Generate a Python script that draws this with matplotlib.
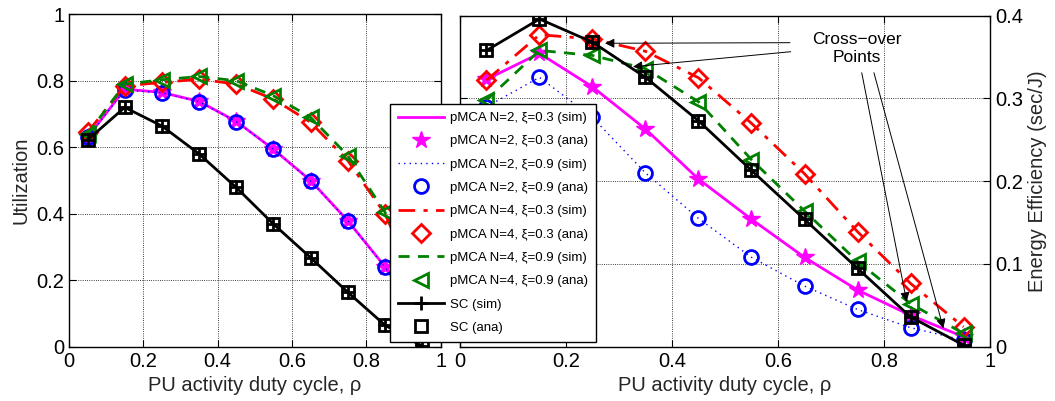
import matplotlib
matplotlib.use("Agg")
import matplotlib.pyplot as plt
from matplotlib.ticker import FixedLocator

plt.rcParams["font.family"] = ["Liberation Sans", "DejaVu Sans"]

rho = [0.05, 0.15, 0.25, 0.35, 0.45, 0.55, 0.65, 0.75, 0.85, 0.95]

# utilization (left panel)
util_n2_x03 = [0.63, 0.775, 0.765, 0.738, 0.678, 0.594, 0.50, 0.379, 0.241, 0.08]
util_n2_x09 = [0.63, 0.772, 0.764, 0.737, 0.677, 0.594, 0.499, 0.379, 0.240, 0.08]
util_n4_x03 = [0.645, 0.785, 0.795, 0.805, 0.79, 0.745, 0.675, 0.56, 0.40, 0.15]
util_n4_x09 = [0.64, 0.79, 0.803, 0.813, 0.80, 0.755, 0.69, 0.575, 0.405, 0.16]
util_sc = [0.622, 0.72, 0.664, 0.58, 0.479, 0.369, 0.268, 0.164, 0.065, 0.002]

# energy efficiency in sec/J (right panel)
ee_n2_x03 = [0.323, 0.3545, 0.314, 0.263, 0.2026, 0.154, 0.108, 0.0685, 0.038, 0.012]
ee_n2_x09 = [0.29, 0.3255, 0.277, 0.21, 0.155, 0.108, 0.0733, 0.045, 0.023, 0.008]
ee_n4_x03 = [0.322, 0.377, 0.372, 0.357, 0.325, 0.27, 0.209, 0.139, 0.0765, 0.024]
ee_n4_x09 = [0.298, 0.358, 0.352, 0.336, 0.296, 0.226, 0.164, 0.103, 0.052, 0.016]
ee_sc = [0.358, 0.396, 0.368, 0.3255, 0.273, 0.213, 0.154, 0.0947, 0.036, 0.002]

labels = [
    "pMCA N=2, ξ=0.3 (sim)", "pMCA N=2, ξ=0.3 (ana)",
    "pMCA N=2, ξ=0.9 (sim)", "pMCA N=2, ξ=0.9 (ana)",
    "pMCA N=4, ξ=0.3 (sim)", "pMCA N=4, ξ=0.3 (ana)",
    "pMCA N=4, ξ=0.9 (sim)", "pMCA N=4, ξ=0.9 (ana)",
    "SC (sim)", "SC (ana)",
]

green = (0, 0.5, 0)


def draw(ax, n2a, n2b, n4a, n4b, sc):
    h = []
    h += ax.plot(rho, n2a, color="magenta", lw=2)
    h += ax.plot(rho, n2a, ls="none", marker="*", ms=13, color="magenta")
    h += ax.plot(rho, n2b, color="blue", lw=1, ls=(0, (1, 3)))
    h += ax.plot(rho, n2b, ls="none", marker="o", ms=10, mew=2, mfc="none", color="blue")
    h += ax.plot(rho, n4a, color="red", lw=2, ls=(0, (6, 3, 1.5, 3)))
    h += ax.plot(rho, n4a, ls="none", marker="D", ms=9, mew=2, mfc="none", color="red")
    h += ax.plot(rho, n4b, color=green, lw=2, ls=(0, (4, 3)))
    h += ax.plot(rho, n4b, ls="none", marker="<", ms=10, mew=2, mfc="none", color=green)
    h += ax.plot(rho, sc, color="black", lw=2, marker="+", ms=10, mew=2)
    h += ax.plot(rho, sc, ls="none", marker="s", ms=8, mew=2, mfc="none", color="black")
    return h


def style(ax, ymax, ystep):
    ax.set_xlim(0, 1)
    ax.set_ylim(0, ymax)
    xt = [0, 0.2, 0.4, 0.6, 0.8, 1]
    yt = [round(i * ystep, 2) for i in range(int(round(ymax / ystep)) + 1)]
    ax.xaxis.set_major_locator(FixedLocator(xt))
    ax.yaxis.set_major_locator(FixedLocator(yt))
    ax.set_xticklabels([("%g" % v) for v in xt])
    ax.set_yticklabels([("%g" % v) for v in yt])
    ax.grid(True, color="black", ls=":", lw=0.6)
    ax.tick_params(direction="in", top=True, right=True, left=True, labelsize=14.5, length=5)
    for s in ax.spines.values():
        s.set_linewidth(1)
    ax.set_xlabel("PU activity duty cycle, ρ", fontsize=14.5, color="#262626")


fig = plt.figure(figsize=(10.55, 4.01), dpi=100)
ax1 = fig.add_axes([0.0654, 0.1354, 0.3523, 0.8289])
ax2 = fig.add_axes([0.436, 0.1354, 0.5024, 0.8254])

handles = draw(ax1, util_n2_x03, util_n2_x09, util_n4_x03, util_n4_x09, util_sc)
draw(ax2, ee_n2_x03, ee_n2_x09, ee_n4_x03, ee_n4_x09, ee_sc)

style(ax1, 1, 0.2)
ax1.set_ylabel("Utilization", fontsize=14.5, color="#262626")
style(ax2, 0.4, 0.1)
ax2.yaxis.tick_right()
ax2.tick_params(axis="y", left=True, right=True, labelleft=False, labelright=True)
ax2.yaxis.set_label_position("right")
ax2.set_ylabel("Energy Efficiency (sec/J)", fontsize=14.5, color="#262626")

# cross-over annotation
ax2.text(0.7485, 0.3606, "Cross\u2212over\nPoints", ha="center", va="center", fontsize=12.5,
         linespacing=1.2)
arrow = dict(arrowstyle="-|>", color="black", lw=0.7, mutation_scale=14, shrinkA=0, shrinkB=0)
ax2.annotate("", xy=(0.2736, 0.3667), xytext=(0.6226, 0.3674), arrowprops=arrow)
ax2.annotate("", xy=(0.3264, 0.3384), xytext=(0.624, 0.3565), arrowprops=arrow)
ax2.annotate("", xy=(0.8428, 0.0544), xytext=(0.758, 0.3311), arrowprops=arrow)
ax2.annotate("", xy=(0.912, 0.0222), xytext=(0.781, 0.3311), arrowprops=arrow)

leg = fig.legend(handles, labels, loc="upper left", bbox_to_anchor=(390 / 1055, 1 - 104 / 401),
                 fontsize=9.5, frameon=True, fancybox=False, framealpha=1, edgecolor="black",
                 handlelength=3.5, handletextpad=0.45, labelspacing=0.84, borderpad=0.6,
                 borderaxespad=0, numpoints=1)
leg.get_frame().set_linewidth(1)

fig.savefig("out.png", dpi=100)
plt.close(fig)
